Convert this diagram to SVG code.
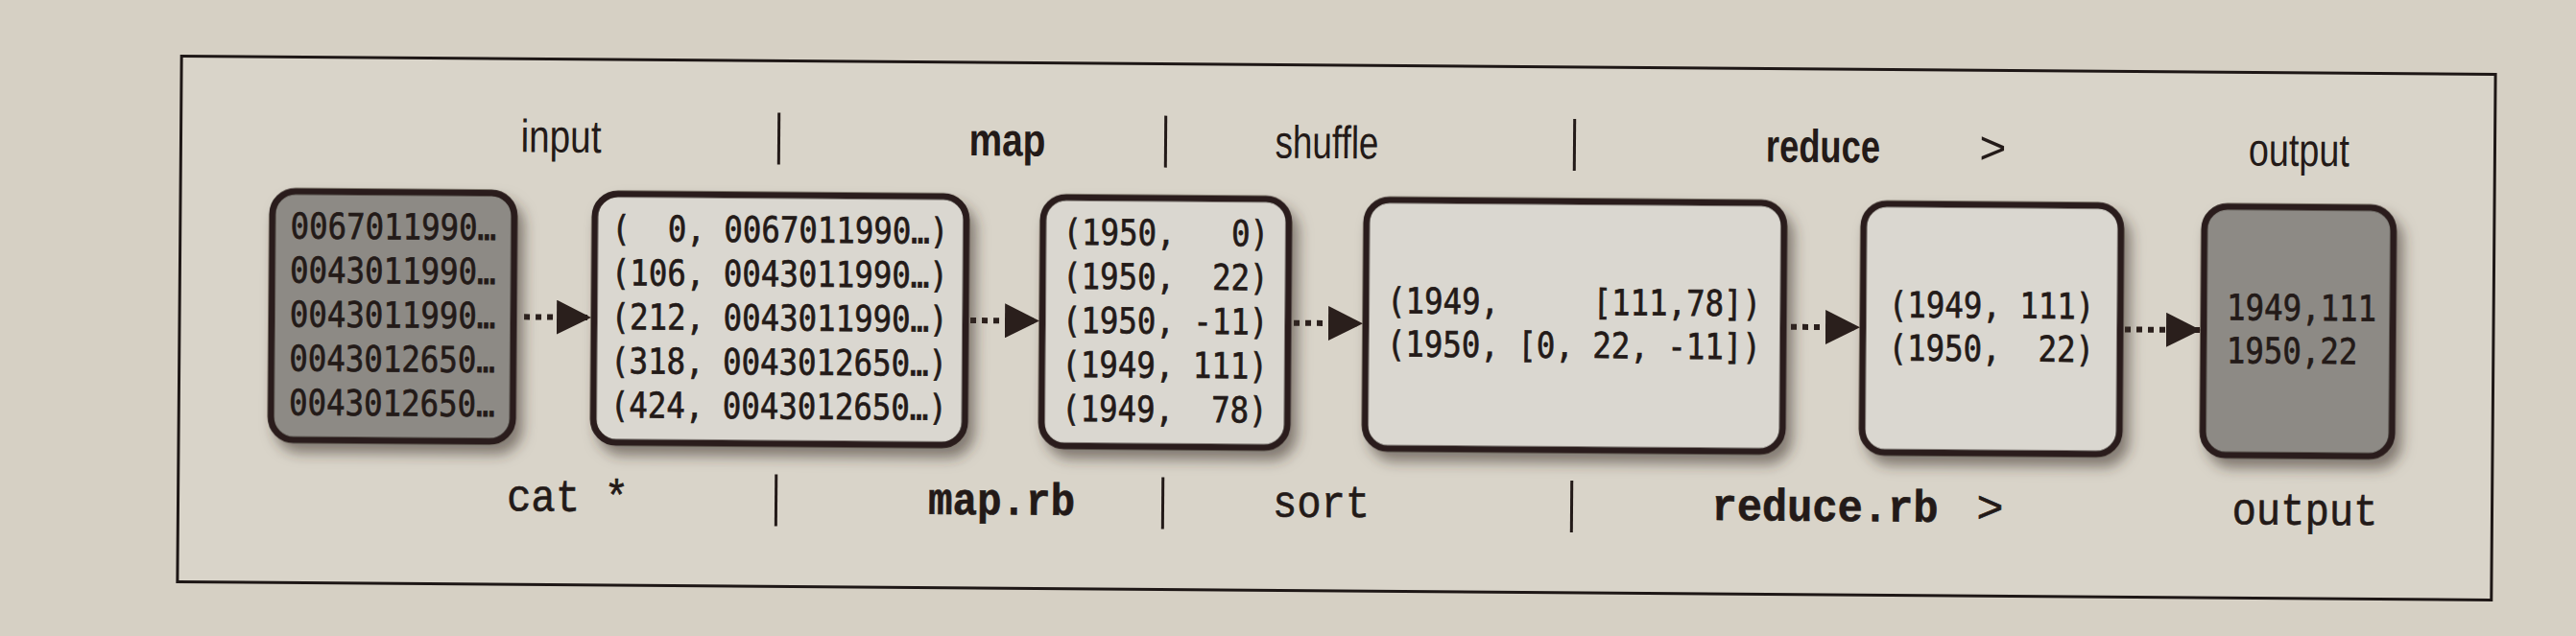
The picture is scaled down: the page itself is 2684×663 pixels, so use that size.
<svg xmlns="http://www.w3.org/2000/svg" width="2684" height="663" viewBox="0 0 2684 663">
  <style>
    .lbl { font-family: "Liberation Sans", Arial, sans-serif; font-size: 48px; fill: #231a18; text-anchor: middle; }
    .bold { font-weight: bold; }
    .cmd { font-family: "Liberation Mono", "DejaVu Sans Mono", monospace; font-size: 47px; fill: #231a18; stroke: #231a18; stroke-width: 0.6; text-anchor: middle; white-space: pre; }
    .bt { font-family: "DejaVu Sans Mono", "Liberation Mono", monospace; font-size: 37px; fill: #231a18; stroke: #231a18; stroke-width: 0.7; text-anchor: middle; white-space: pre; }
    .btl { text-anchor: start; }
    .box { stroke: #2a1f1c; stroke-width: 7; filter: url(#sh); }
    .light { fill: #dad7d0; }
    .dark { fill: #8d8a85; }
    .bar { stroke: #231a18; stroke-width: 3; }
    .conn { stroke: #2a1f1c; stroke-width: 6; stroke-dasharray: 6 6; fill: none; marker-end: url(#tri); }
  </style>
  <defs>
    <filter id="sh" x="-10%" y="-10%" width="130%" height="130%">
      <feDropShadow dx="7" dy="10" stdDeviation="7" flood-color="#3a302c" flood-opacity="0.55"/>
    </filter>
    <marker id="tri" viewBox="0 0 36 36" refX="36" refY="18" markerWidth="36" markerHeight="36" markerUnits="userSpaceOnUse" orient="auto">
      <path d="M0,0 L36,18 L0,36 z" fill="#2a1f1c"/>
    </marker>
  </defs>
  <rect x="0" y="0" width="2684" height="663" fill="#d6d0c4"/>
  <g id="diagram" transform="rotate(0.45 1390 340)">
    <rect id="frame" x="187" y="68" width="2411" height="548" fill="#d9d4c9" stroke="#1e1716" stroke-width="3"/>

    <g id="top-labels">
      <text class="lbl" x="583" y="165" textLength="84" lengthAdjust="spacingAndGlyphs">input</text>
      <line class="bar" x1="810" y1="122" x2="810" y2="176"/>
      <text class="lbl bold" x="1048" y="165" textLength="80" lengthAdjust="spacingAndGlyphs">map</text>
      <line class="bar" x1="1213" y1="122" x2="1213" y2="176"/>
      <text class="lbl" x="1381" y="165" textLength="108" lengthAdjust="spacingAndGlyphs">shuffle</text>
      <line class="bar" x1="1639" y1="122" x2="1639" y2="176"/>
      <text class="lbl bold" x="1898" y="165" textLength="119" lengthAdjust="spacingAndGlyphs">reduce</text>
      <text class="lbl" x="2075" y="165">&gt;</text>
      <text class="lbl" x="2394" y="165" textLength="105" lengthAdjust="spacingAndGlyphs">output</text>
    </g>

    <g id="bottom-labels">
      <text class="cmd" x="593" y="539" textLength="127" lengthAdjust="spacingAndGlyphs" xml:space="preserve">cat *</text>
      <line class="bar" x1="810" y1="499" x2="810" y2="553"/>
      <text class="cmd bold" x="1045" y="539" textLength="153" lengthAdjust="spacingAndGlyphs">map.rb</text>
      <line class="bar" x1="1213" y1="499" x2="1213" y2="553"/>
      <text class="cmd" x="1378" y="539" textLength="101" lengthAdjust="spacingAndGlyphs">sort</text>
      <line class="bar" x1="1639" y1="499" x2="1639" y2="553"/>
      <text class="cmd bold" x="1903" y="539" textLength="236" lengthAdjust="spacingAndGlyphs">reduce.rb</text>
      <text class="cmd" x="2075" y="539">&gt;</text>
      <text class="cmd" x="2403" y="539" textLength="152" lengthAdjust="spacingAndGlyphs">output</text>
    </g>

    <g id="connectors">
      <line class="conn" x1="546" y1="337" x2="616" y2="337"/>
      <line class="conn" x1="1011" y1="337" x2="1083" y2="337"/>
      <line class="conn" x1="1348" y1="337" x2="1420" y2="337"/>
      <line class="conn" x1="1866" y1="337" x2="1938" y2="337"/>
      <line class="conn" x1="2214" y1="337" x2="2293" y2="337"/>
    </g>

    <g id="n-input">
      <rect class="box dark" x="283" y="208" width="252" height="259" rx="24"/>
      <text class="bt" x="409" y="257" textLength="214.5" lengthAdjust="spacingAndGlyphs">0067011990…</text>
      <text class="bt" x="409" y="303" textLength="214.5" lengthAdjust="spacingAndGlyphs">0043011990…</text>
      <text class="bt" x="409" y="349" textLength="214.5" lengthAdjust="spacingAndGlyphs">0043011990…</text>
      <text class="bt" x="409" y="395" textLength="214.5" lengthAdjust="spacingAndGlyphs">0043012650…</text>
      <text class="bt" x="409" y="441" textLength="214.5" lengthAdjust="spacingAndGlyphs">0043012650…</text>
    </g>

    <g id="n-map-input">
      <rect class="box light" x="619" y="208" width="387" height="259" rx="24"/>
      <text class="bt" x="812" y="257" textLength="351" lengthAdjust="spacingAndGlyphs" xml:space="preserve">(  0, 0067011990…)</text>
      <text class="bt" x="812" y="303" textLength="351" lengthAdjust="spacingAndGlyphs">(106, 0043011990…)</text>
      <text class="bt" x="812" y="349" textLength="351" lengthAdjust="spacingAndGlyphs">(212, 0043011990…)</text>
      <text class="bt" x="812" y="395" textLength="351" lengthAdjust="spacingAndGlyphs">(318, 0043012650…)</text>
      <text class="bt" x="812" y="441" textLength="351" lengthAdjust="spacingAndGlyphs">(424, 0043012650…)</text>
    </g>

    <g id="n-map-output">
      <rect class="box light" x="1086" y="208" width="256" height="259" rx="24"/>
      <text class="bt" x="1214" y="257" textLength="214.5" lengthAdjust="spacingAndGlyphs" xml:space="preserve">(1950,   0)</text>
      <text class="bt" x="1214" y="303" textLength="214.5" lengthAdjust="spacingAndGlyphs" xml:space="preserve">(1950,  22)</text>
      <text class="bt" x="1214" y="349" textLength="214.5" lengthAdjust="spacingAndGlyphs">(1950, -11)</text>
      <text class="bt" x="1214" y="395" textLength="214.5" lengthAdjust="spacingAndGlyphs">(1949, 111)</text>
      <text class="bt" x="1214" y="441" textLength="214.5" lengthAdjust="spacingAndGlyphs" xml:space="preserve">(1949,  78)</text>
    </g>

    <g id="n-shuffle">
      <rect class="box light" x="1423" y="208" width="435" height="259" rx="24"/>
      <text class="bt" x="1640" y="326" textLength="390" lengthAdjust="spacingAndGlyphs" xml:space="preserve">(1949,     [111,78])</text>
      <text class="bt" x="1640" y="371" textLength="390" lengthAdjust="spacingAndGlyphs">(1950, [0, 22, -11])</text>
    </g>

    <g id="n-reduce">
      <rect class="box light" x="1941" y="208" width="268" height="259" rx="24"/>
      <text class="bt" x="2075" y="326" textLength="214.5" lengthAdjust="spacingAndGlyphs">(1949, 111)</text>
      <text class="bt" x="2075" y="371" textLength="214.5" lengthAdjust="spacingAndGlyphs" xml:space="preserve">(1950,  22)</text>
    </g>

    <g id="n-output">
      <rect class="box dark" x="2296" y="208" width="197" height="259" rx="24"/>
      <text class="bt btl" x="2320" y="326" textLength="156" lengthAdjust="spacingAndGlyphs">1949,111</text>
      <text class="bt btl" x="2320" y="371" textLength="136.5" lengthAdjust="spacingAndGlyphs">1950,22</text>
    </g>
  </g>
</svg>
